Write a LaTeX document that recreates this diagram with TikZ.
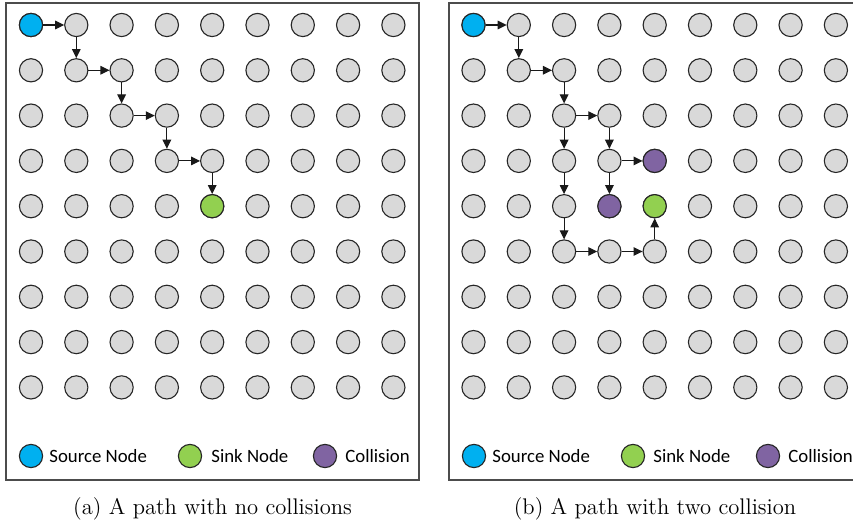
\documentclass[tikz,border=0pt]{standalone}
\usepackage{fontspec}
\newfontfamily\legfont{Carlito}
\usetikzlibrary{arrows.meta}
\definecolor{srcc}{HTML}{00B0F0}
\definecolor{sinkc}{HTML}{92D050}
\definecolor{collc}{HTML}{8064A2}
\definecolor{ndgray}{HTML}{D9D9D9}
\begin{document}
\begin{tikzpicture}[x=0.5pt,y=-0.5pt,
  dot/.style={circle,draw=black!85,line width=0.55pt,fill=ndgray,minimum size=11.6pt,inner sep=0pt},
  arr/.style={-{Triangle[length=4.5pt,width=4.3pt]},line width=0.55pt,draw=black!90},
  frame/.style={draw=black!70,line width=0.6pt},
  legtext/.style={anchor=base west,inner sep=0pt,font=\legfont\fontsize{9.4}{11}\selectfont},
  captext/.style={anchor=base,inner sep=0pt,font=\fontsize{11.3}{13}\selectfont}]
\useasboundingbox (0,0) rectangle (853,524);
\begin{scope}
\clip (0,0) rectangle (853,524);
\draw[frame] (6,3) rectangle (419,480);
\draw[frame] (449,3) rectangle (870,480);
% grids
\foreach \i in {0,...,8} {
  \foreach \j in {0,...,8} {
    \node[dot] (a-\i-\j) at ({31+45.3*\i},{25+45.3*\j}) {};
    \node[dot] (b-\i-\j) at ({473.5+45.3*\i},{25+45.3*\j}) {};
  }
}
\end{scope}
% coloured nodes (a)
\node[dot,fill=srcc] (a-0-0) at (31,25) {};
\node[dot,fill=sinkc] (a-4-4) at ({31+45.3*4},{25+45.3*4}) {};
% coloured nodes (b)
\node[dot,fill=srcc] (b-0-0) at (473.5,25) {};
\node[dot,fill=sinkc] (b-4-4) at ({473.5+45.3*4},{25+45.3*4}) {};
\node[dot,fill=collc] (b-4-3) at ({473.5+45.3*4},{25+45.3*3}) {};
\node[dot,fill=collc] (b-3-4) at ({473.5+45.3*3},{25+45.3*4}) {};
% path (a)
\draw[arr] (a-0-0) -- (a-1-0);
\draw[arr] (a-1-0) -- (a-1-1);
\draw[arr] (a-1-1) -- (a-2-1);
\draw[arr] (a-2-1) -- (a-2-2);
\draw[arr] (a-2-2) -- (a-3-2);
\draw[arr] (a-3-2) -- (a-3-3);
\draw[arr] (a-3-3) -- (a-4-3);
\draw[arr] (a-4-3) -- (a-4-4);
% path (b)
\draw[arr] (b-0-0) -- (b-1-0);
\draw[arr] (b-1-0) -- (b-1-1);
\draw[arr] (b-1-1) -- (b-2-1);
\draw[arr] (b-2-1) -- (b-2-2);
\draw[arr] (b-2-2) -- (b-3-2);
\draw[arr] (b-2-2) -- (b-2-3);
\draw[arr] (b-3-2) -- (b-3-3);
\draw[arr] (b-3-3) -- (b-4-3);
\draw[arr] (b-3-3) -- (b-3-4);
\draw[arr] (b-2-3) -- (b-2-4);
\draw[arr] (b-2-4) -- (b-2-5);
\draw[arr] (b-2-5) -- (b-3-5);
\draw[arr] (b-3-5) -- (b-4-5);
\draw[arr] (b-4-5) -- (b-4-4);
% legends
\node[dot,fill=srcc] (la1) at (31,456) {};
\node[legtext] (lt1) at (49,462.5) {Source Node};
\node[dot,fill=sinkc] (la2) at (190,456) {};
\node[legtext] (lt2) at (211,462.5) {Sink Node};
\node[dot,fill=collc] (la3) at (325,456) {};
\node[legtext] (lt3) at (345,462.5) {Collision};
\node[dot,fill=srcc] (lb1) at (474,456) {};
\node[legtext] (ltb1) at (492,462.5) {Source Node};
\node[dot,fill=sinkc] (lb2) at (633,456) {};
\node[legtext] (ltb2) at (653,462.5) {Sink Node};
\node[dot,fill=collc] (lb3) at (768,456) {};
\node[legtext] (ltb3) at (788,462.5) {Collision};
% captions
\node[captext] (capa) at (212.5,515) {(a) A path with no collisions};
\node[captext] (capb) at (655,515) {(b) A path with two collision};
\end{tikzpicture}
\end{document}
